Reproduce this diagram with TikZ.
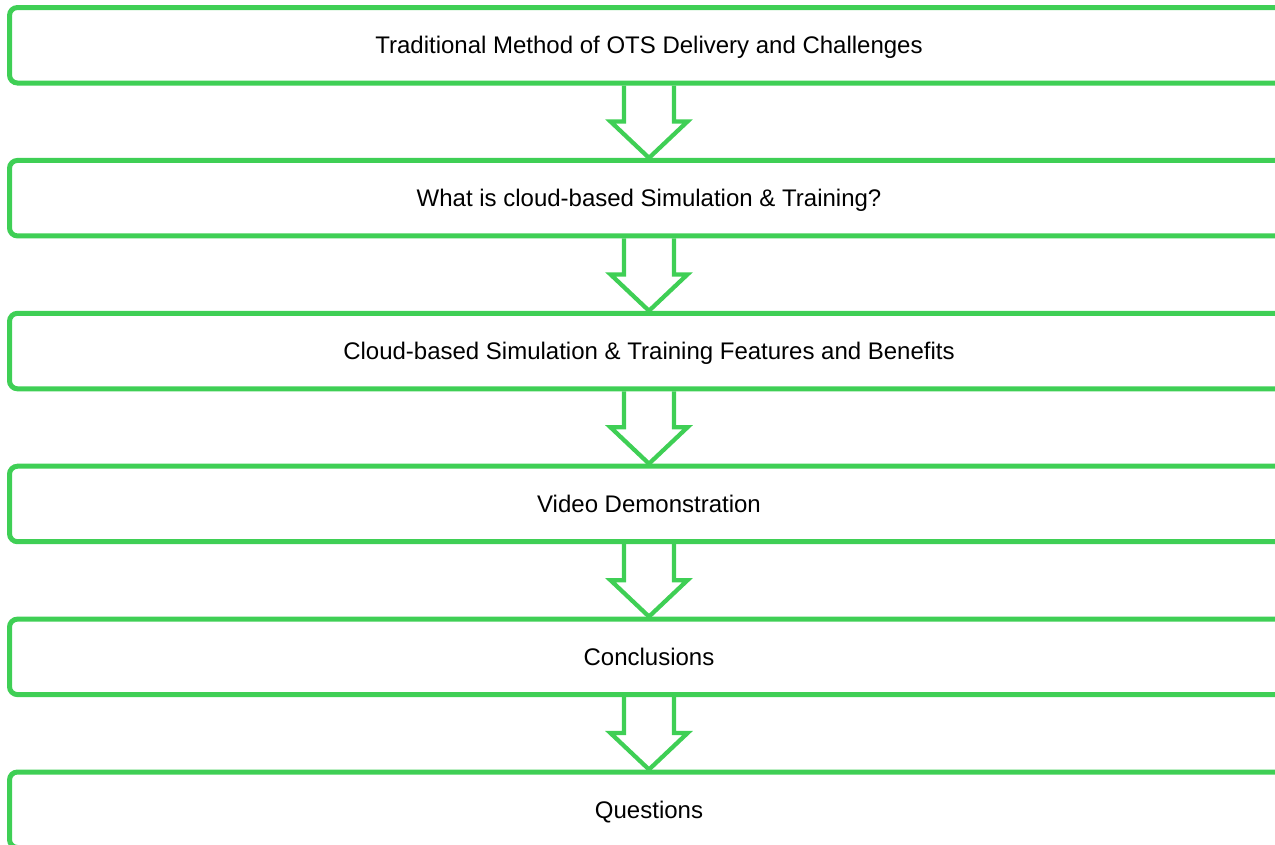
\documentclass[tikz,border=0pt]{standalone}
\usepackage{fontspec}
\setmainfont{Liberation Sans}
\usetikzlibrary{calc}
\definecolor{stagegreen}{RGB}{63,207,85}

\begin{document}
\begin{tikzpicture}[x=0.75pt,y=-0.75pt,
    stage/.style={draw=stagegreen,line width=3.75pt,rounded corners=6pt,
        minimum width=1279*0.75pt,minimum height=75.5*0.75pt,inner sep=0pt,
        text depth=0pt,font=\fontsize{18pt}{21.6pt}\selectfont},
    flow/.style={draw=stagegreen,line width=3.2pt,line join=miter}]
    \clip (0,0) rectangle (1275,844);
    % stages
    \node[stage] (s1) at (649,45.25) {Traditional Method of OTS Delivery and Challenges};
    \node[stage] (s2) at (649,198.15) {What is cloud-based Simulation \& Training?};
    \node[stage] (s3) at (649,351.05) {Cloud-based Simulation \& Training Features and Benefits};
    \node[stage] (s4) at (649,503.95) {Video Demonstration};
    \node[stage] (s5) at (649,656.85) {Conclusions};
    \node[stage] (s6) at (649,809.75) {Questions};
    % hollow arrows between stages
    \foreach \i [evaluate=\i as \j using int(\i+1)] in {1,...,5} {
        \draw[flow] ($(s\i.south)+(-25,0)$) -- ++(0,36) -- ++(-13.5,0) -- (s\j.north)
            -- ($(s\i.south)+(38.5,36)$) -- ++(-13.5,0) -- ($(s\i.south)+(25,0)$);
    }
\end{tikzpicture}
\end{document}
